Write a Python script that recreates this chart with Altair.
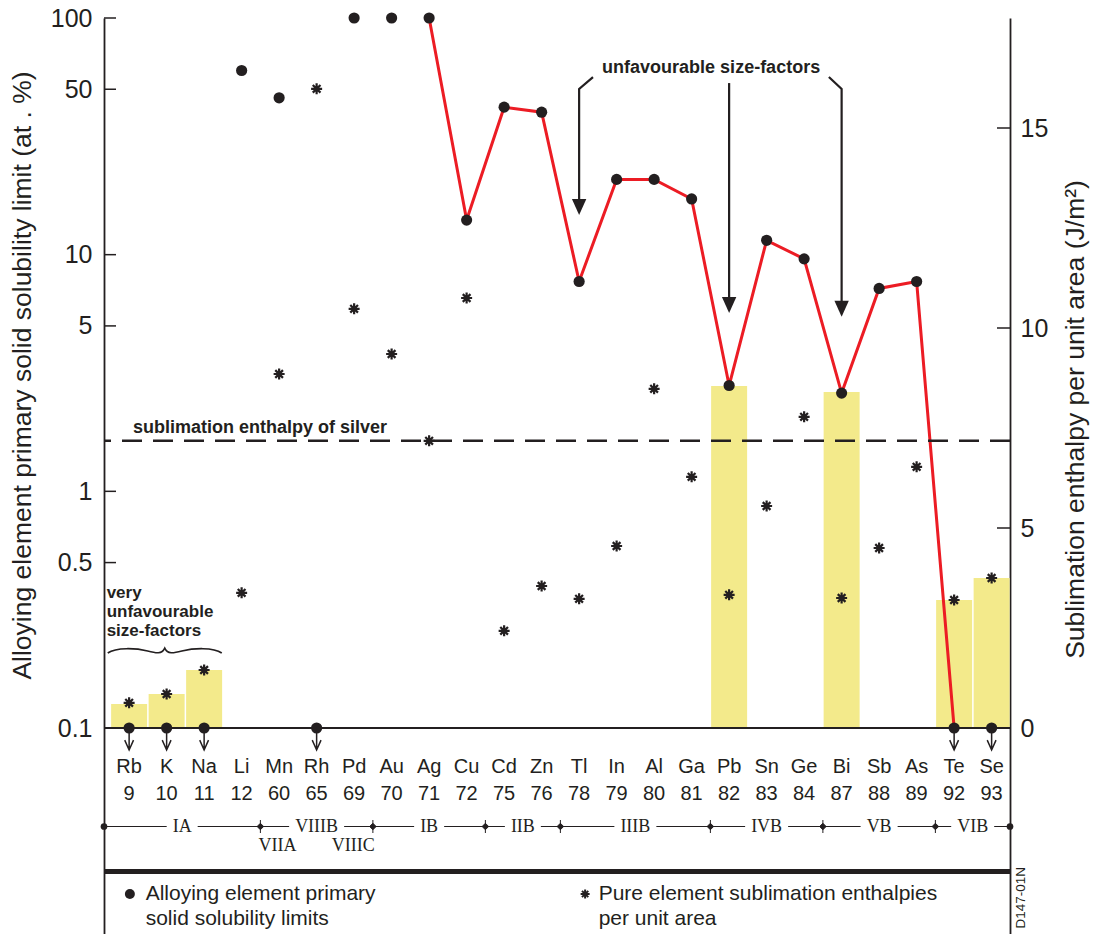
import altair as alt
import pandas as pd

# ---------------- data ----------------
elements = ["Rb", "K", "Na", "Li", "Mn", "Rh", "Pd", "Au", "Ag", "Cu", "Cd", "Zn",
            "Tl", "In", "Al", "Ga", "Pb", "Sn", "Ge", "Bi", "Sb", "As", "Te", "Se"]
size_factor = [9, 10, 11, 12, 60, 65, 69, 70, 71, 72, 75, 76,
               78, 79, 80, 81, 82, 83, 84, 87, 88, 89, 92, 93]
solubility = [0.1, 0.1, 0.1, 60, 46, 0.1, 100, 100, 100, 14, 42, 40,
              7.7, 20.8, 20.8, 17.2, 2.8, 11.5, 9.6, 2.6, 7.2, 7.7, 0.1, 0.1]
enthalpy = [0.63, 0.85, 1.45, 3.38, 8.85, 15.98, 10.48, 9.35, 7.18, 10.75, 2.43, 3.55,
            3.23, 4.55, 8.48, 6.28, 3.33, 5.55, 7.78, 3.25, 4.5, 6.53, 3.2, 3.75]
shaded_elements = ["Rb", "K", "Na", "Pb", "Bi", "Te", "Se"]
shaded_height = [0.6, 0.85, 1.45, 8.55, 8.4, 3.2, 3.75]
connected = ["Ag", "Cu", "Cd", "Zn", "Tl", "In", "Al", "Ga", "Pb", "Sn", "Ge",
             "Bi", "Sb", "As", "Te"]
silver_enthalpy = 7.18
groups = ["IA", "VIIIB", "IB", "IIB", "IIIB", "IVB", "VB", "VIB"]
group_sizes = [4, 3, 3, 2, 4, 3, 3, 2]
left_ticks = [0.1, 0.5, 1, 5, 10, 50, 100]
right_ticks = [0, 5, 10, 15]
arrow_targets = ["Tl", "Pb", "Bi"]
arrow_top = [56.3, 53.1, 56.3]
arrow_bend = [50.1, 53.1, 50.1]
arrow_tip = [14.7, 5.67, 5.46]

# ---------------- layout / style ----------------
W, H = 906, 916
BASE = 710                      # px from plot top to the 0.1 / 0 baseline
DEC = BASE / 3.0                # px per decade (left log axis)
X0, X1 = -0.67, 23.49
PXX = W / (X1 - X0)
YMIN = 10 ** (2 - H / DEC)
RPX = 40.0                      # px per J/m2 (right axis)
RTOP = BASE / RPX
RBOT = -(H - BASE) / RPX


def logy(px):                   # px below plot top -> log-axis value
    return 10 ** (2 - px / DEC)


def row(px):                    # px below baseline -> right-axis value
    return -px / RPX


INK = "#231f20"
RED = "#ec1c24"
YELLOW = "#f3ea8b"
F = "Liberation Sans"
FS = "Liberation Serif"
GFS = 18

ASTER = "M-1,0L1,0M0,-1L0,1M-0.7,-0.7L0.7,0.7M-0.7,0.7L0.7,-0.7"
DOWN = "M0,0L0,1M-0.2,0.55L0,1L0.2,0.55"
HEAD = "M0,0L-0.45,-1L0.45,-1Z"
BRACE = ("M-1,0.035C-0.85,-0.07,-0.5,-0.05,-0.3,0C-0.15,0.04,-0.05,0.06,0,-0.05"
         "C0.05,0.06,0.15,0.04,0.3,0C0.5,-0.05,0.85,-0.07,1,0.035")
TICKMARK = "M0,-1L0,1M-0.5,0L0,-0.5L0.5,0L0,0.5Z"

xs = alt.Scale(domain=[X0, X1], nice=False, zero=False)
ylog = alt.Scale(type="log", domain=[YMIN, 100], nice=False)
ylin = alt.Scale(domain=[RBOT, RTOP], nice=False, zero=False)


def X(f):
    return alt.X(f, type="quantitative", scale=xs, axis=None)


def YL(f):
    return alt.Y(f, type="quantitative", scale=ylog, axis=None)


def YR(f):
    return alt.Y(f, type="quantitative", scale=ylin, axis=None)


pos = {e: k for k, e in enumerate(elements)}
el = pd.DataFrame({"i": range(len(elements)), "el": elements,
                   "num": [str(v) for v in size_factor],
                   "sol": solubility, "enth": enthalpy})

# ---------------- bars (underneath) ----------------
bdf = pd.DataFrame({"el": shaded_elements, "top": shaded_height})
bdf["i"] = bdf.el.map(pos)
bdf["xa"] = bdf.i - 0.48
bdf["xb"] = bdf.i + 0.48
bdf["zero"] = 0.0
bars = alt.Chart(bdf).mark_rect(color=YELLOW).encode(
    x=X("xa"), x2="xb", y=YR("zero"), y2="top")

# ---------------- left (log) marks ----------------
left_axis = alt.Axis(
    orient="left", values=left_ticks, format="~g", ticks=False, tickSize=0,
    labelPadding=12, labelFont=F, labelFontSize=25, labelColor=INK,
    labelOverlap=False, domainColor=INK, domainWidth=1.8, grid=False,
    title="Alloying element primary solid solubility limit (at . %)",
    titleFont=F, titleFontSize=26.5, titleFontWeight="normal", titleColor=INK,
    titleAngle=270, titleX=-82, titleY=357, titleAlign="center",
    titleBaseline="middle")
top_axis = alt.Axis(orient="top", labels=False, ticks=False, title=None,
                    grid=False, domainColor=INK, domainWidth=1.8)

base = alt.Chart(pd.DataFrame({"v": [0.1]})).mark_rule(
    color=INK, strokeWidth=1.8).encode(
    y=alt.Y("v:Q", scale=ylog, axis=left_axis))

ltk = pd.DataFrame({"v": left_ticks, "xa": X0, "xb": X0 + 12 / PXX})
ticks_l = alt.Chart(ltk).mark_rule(color=INK, strokeWidth=1.5).encode(
    x=X("xa"), x2="xb", y=YL("v"))

red = alt.Chart(el[el.el.isin(connected)]).mark_line(
    color=RED, strokeWidth=3).encode(
    x=alt.X("i:Q", scale=xs, axis=top_axis), y=YL("sol"), order="i:Q")

low = alt.Chart(el[el.sol <= 0.1]).mark_point(
    shape=DOWN, size=1936, filled=False, stroke=INK, strokeWidth=1.5,
    opacity=1).encode(x=X("i"), y=YL("sol"))

dots = alt.Chart(el).mark_point(
    shape="circle", filled=True, size=125, color=INK, opacity=1).encode(
    x=X("i"), y=YL("sol"))

# big annotation arrows
kink = [0.37, 0.0, -0.34]
rows = []
for k, (t, a, b, c) in enumerate(zip(arrow_targets, arrow_top, arrow_bend, arrow_tip)):
    xi = pos[t]
    rows.append({"a": k, "o": 0, "x": xi + kink[k], "y": a})
    rows.append({"a": k, "o": 1, "x": xi, "y": b})
    rows.append({"a": k, "o": 2, "x": xi, "y": c * 1.12})
adf = pd.DataFrame(rows)
alines = alt.Chart(adf).mark_line(color=INK, strokeWidth=2.2).encode(
    x=X("x"), y=YL("y"), detail="a:N", order="o:Q")
hdf = pd.DataFrame({"x": [pos[t] for t in arrow_targets], "y": arrow_tip})
aheads = alt.Chart(hdf).mark_point(
    shape=HEAD, size=1024, filled=True, color=INK, opacity=1).encode(
    x=X("x"), y=YL("y"))

t1 = alt.Chart(pd.DataFrame({"x": [15.52], "y": [logy(50)],
                             "t": ["unfavourable size-factors"]})).mark_text(
    font=F, fontSize=18, fontWeight="bold", color=INK, align="center",
    baseline="middle").encode(x=X("x"), y=YL("y"), text="t:N")

vdf = pd.DataFrame({"x": [-0.6] * 3, "y": [logy(575), logy(594), logy(613)],
                    "t": ["very", "unfavourable", "size-factors"]})
t2 = alt.Chart(vdf).mark_text(
    font=F, fontSize=17, fontWeight="bold", color=INK, align="left",
    baseline="middle").encode(x=X("x"), y=YL("y"), text="t:N")

brace = alt.Chart(pd.DataFrame({"x": [0.95], "y": [logy(633)]})).mark_point(
    shape=BRACE, size=12996, filled=False, stroke=INK, strokeWidth=1.6,
    opacity=1).encode(x=X("x"), y=YL("y"))

# ---------------- right (linear) marks ----------------
right_axis = alt.Axis(
    orient="right", values=right_ticks, ticks=False, tickSize=0,
    labelPadding=10, labelFont=F, labelFontSize=25, labelColor=INK,
    labelOverlap=False, domainColor=INK, domainWidth=1.8, grid=False,
    title="Sublimation enthalpy per unit area (J/m²)",
    titleFont=F, titleFontSize=26.5, titleFontWeight="normal", titleColor=INK,
    titleAngle=270, titleX=65, titleY=401, titleAlign="center",
    titleBaseline="middle")

dash = alt.Chart(pd.DataFrame({"v": [silver_enthalpy]})).mark_rule(
    color=INK, strokeWidth=2.4, strokeDash=[20, 11]).encode(
    y=alt.Y("v:Q", scale=ylin, axis=right_axis))

rtk = pd.DataFrame({"v": right_ticks, "xa": X1 - 13 / PXX, "xb": X1})
ticks_r = alt.Chart(rtk).mark_rule(color=INK, strokeWidth=1.5).encode(
    x=X("xa"), x2="xb", y=YR("v"))

aster = alt.Chart(el).mark_point(
    shape=ASTER, size=121, filled=False, stroke=INK, strokeWidth=2.2,
    opacity=1).encode(x=X("i"), y=YR("enth"))

silver_txt = alt.Chart(pd.DataFrame({"x": [0.1], "y": [silver_enthalpy],
                                     "t": ["sublimation enthalpy of silver"]})).mark_text(
    font=F, fontSize=18, fontWeight="bold", color=INK, align="left",
    baseline="alphabetic", dy=-8).encode(x=X("x"), y=YR("y"), text="t:N")

el["ys"] = row(39)
el["yn"] = row(66)
sym = alt.Chart(el).mark_text(font=F, fontSize=20, color=INK, align="center",
                              baseline="middle").encode(x=X("i"), y=YR("ys"), text="el:N")
nums = alt.Chart(el).mark_text(font=F, fontSize=20, color=INK, align="center",
                               baseline="middle").encode(x=X("i"), y=YR("yn"), text="num:N")

# group row
cw = {"I": 0.333, "V": 0.722, "B": 0.667, "A": 0.722, "C": 0.667}
bounds = [X0]
acc = 0
for s in group_sizes[:-1]:
    acc += s
    bounds.append(acc - 0.5)
bounds.append(X1)
gy = row(98.5)
segs, labs = [], []
for k, g in enumerate(groups):
    a, b = bounds[k], bounds[k + 1]
    c = (a + b) / 2
    hw = (sum(cw[ch] for ch in g) * GFS / 2 + 6) / PXX
    segs.append({"xa": a, "xb": c - hw, "y": gy})
    segs.append({"xa": c + hw, "xb": b, "y": gy})
    labs.append({"x": c, "y": gy, "t": g})
gseg = alt.Chart(pd.DataFrame(segs)).mark_rule(color=INK, strokeWidth=1).encode(
    x=X("xa"), x2="xb", y=YR("y"))
glab = alt.Chart(pd.DataFrame(labs)).mark_text(
    font=FS, fontSize=GFS, color=INK, align="center", baseline="middle").encode(
    x=X("x"), y=YR("y"), text="t:N")
gtick = alt.Chart(pd.DataFrame({"x": bounds[1:-1], "y": gy})).mark_point(
    shape=TICKMARK, size=169, fill=INK, stroke=INK, strokeWidth=1, opacity=1).encode(
    x=X("x"), y=YR("y"))
gend = alt.Chart(pd.DataFrame({"x": [X0, X1], "y": gy})).mark_point(
    shape="circle", filled=True, size=45, color=INK, opacity=1).encode(
    x=X("x"), y=YR("y"))
sub1 = alt.Chart(pd.DataFrame({"x": [bounds[1] - 0.05], "y": [row(118)], "t": ["VIIA"]})).mark_text(
    font=FS, fontSize=GFS, color=INK, align="left", baseline="middle").encode(
    x=X("x"), y=YR("y"), text="t:N")
sub2 = alt.Chart(pd.DataFrame({"x": [bounds[2] + 0.05], "y": [row(118)], "t": ["VIIIC"]})).mark_text(
    font=FS, fontSize=GFS, color=INK, align="right", baseline="middle").encode(
    x=X("x"), y=YR("y"), text="t:N")

thick = alt.Chart(pd.DataFrame({"v": [row(143.5)]})).mark_rule(
    color=INK, strokeWidth=5).encode(y=YR("v"))

# legend
l1, l2 = row(166), row(191)
leg_dot = alt.Chart(pd.DataFrame({"x": [0.02], "y": [l1]})).mark_point(
    shape="circle", filled=True, size=100, color=INK, opacity=1).encode(x=X("x"), y=YR("y"))
leg_ast = alt.Chart(pd.DataFrame({"x": [12.16], "y": [l1]})).mark_point(
    shape=ASTER, size=81, filled=False, stroke=INK, strokeWidth=2, opacity=1).encode(
    x=X("x"), y=YR("y"))
leg_txt = alt.Chart(pd.DataFrame({
    "x": [0.44, 0.44, 12.52, 12.52], "y": [l1, l2, l1, l2],
    "t": ["Alloying element primary", "solid solubility limits",
          "Pure element sublimation enthalpies", "per unit area"]})).mark_text(
    font=F, fontSize=21, color=INK, align="left", baseline="middle").encode(
    x=X("x"), y=YR("y"), text="t:N")
code = alt.Chart(pd.DataFrame({"x": [23.79], "y": [row(139)], "t": ["D147-01N"]})).mark_text(
    font=F, fontSize=13.5, color=INK, align="right", baseline="middle", angle=270).encode(
    x=X("x"), y=YR("y"), text="t:N")

chart = alt.layer(
    bars, base, ticks_l, red, low, dots, alines, aheads, t1, t2, brace,
    dash, ticks_r, aster, silver_txt, sym, nums, gseg, glab, gtick, gend,
    sub1, sub2, thick, leg_dot, leg_ast, leg_txt, code
).resolve_scale(y="independent").properties(
    width=W, height=H,
    padding={"left": 104, "top": 18, "right": 87, "bottom": 0},
    autosize=alt.AutoSizeParams(type="none"),
    background="white",
).configure_view(stroke=None)

chart.save("out.html", embed_options={"renderer": "svg", "actions": False})
